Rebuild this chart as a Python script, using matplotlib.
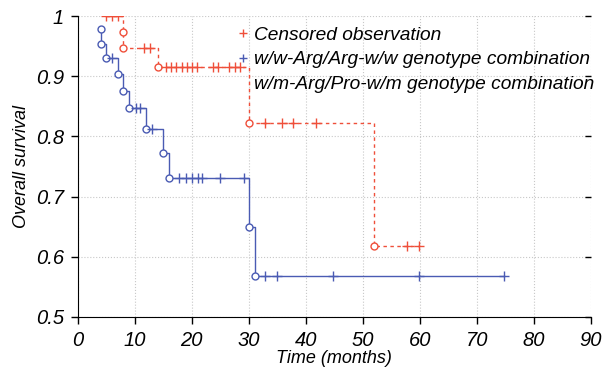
import matplotlib
matplotlib.use('Agg')
import matplotlib.pyplot as plt
from matplotlib.lines import Line2D

# w/w-Arg/Arg-w/w group (blue): time in months, survival, 1=event 0=censored
ww_time = [4, 4, 5, 6, 7, 8, 9, 10.2, 10.9, 12, 13, 15, 16, 17.8, 19.0, 20.1,
           21.1, 21.8, 24.9, 29.1, 30, 31, 32.8, 34.9, 44.7, 59.8, 74.7]
ww_surv = [0.978, 0.953, 0.930, 0.930, 0.903, 0.876, 0.848, 0.848, 0.848,
           0.813, 0.813, 0.773, 0.731, 0.731, 0.731, 0.731, 0.731, 0.731,
           0.731, 0.731, 0.650, 0.568, 0.568, 0.568, 0.568, 0.568, 0.568]
ww_event = [1, 1, 1, 0, 1, 1, 1, 0, 0, 1, 0, 1, 1, 0, 0, 0, 0, 0, 0, 0, 1, 1,
            0, 0, 0, 0, 0]

# w/m-Arg/Pro-w/m group (red)
wm_time = [5, 6, 7, 8, 8, 11.7, 12.6, 14, 15.5, 16.4, 17.3, 18.2, 19.1, 20.0,
           20.9, 23.7, 24.6, 26.6, 27.6, 28.5, 30, 32.8, 35.9, 37.8, 41.8, 52,
           57.8, 59.8]
wm_surv = [1, 1, 1, 0.974, 0.947, 0.947, 0.947, 0.915, 0.915, 0.915, 0.915,
           0.915, 0.915, 0.915, 0.915, 0.915, 0.915, 0.915, 0.915, 0.915,
           0.823, 0.823, 0.823, 0.823, 0.823, 0.617, 0.617, 0.617]
wm_event = [0, 0, 0, 1, 1, 0, 0, 1, 0, 0, 0, 0, 0, 0, 0, 0, 0, 0, 0, 0, 1, 0,
            0, 0, 0, 1, 0, 0]

legend_labels = ['Censored observation',
                 'w/w-Arg/Arg-w/w genotype combination',
                 'w/m-Arg/Pro-w/m genotype combination']

xticks = [0, 10, 20, 30, 40, 50, 60, 70, 80, 90]
yticks = [0.5, 0.6, 0.7, 0.8, 0.9, 1.0]
ytick_labels = ['0.5', '0.6', '0.7', '0.8', '0.9', '1']

RED = '#ef4f3a'
BLUE = '#4a5bb3'

plt.rcParams['font.family'] = ['Liberation Sans', 'DejaVu Sans']
plt.rcParams['font.style'] = 'italic'


def draw_group(ax, t, s, ev, color, ls):
    ax.step(t, s, where='post', color=color, lw=1.0, ls=ls, zorder=3)
    et = [a for a, e in zip(t, ev) if e]
    es = [b for b, e in zip(s, ev) if e]
    ct = [a for a, e in zip(t, ev) if not e]
    cs = [b for b, e in zip(s, ev) if not e]
    ax.plot(et, es, 'o', mfc='white', mec=color, mew=1.0, ms=5, zorder=4)
    ax.plot(ct, cs, '+', color=color, mew=1.0, ms=6.5, zorder=4)


fig = plt.figure(figsize=(6.03, 3.75), dpi=100)
ax = fig.add_axes([0.129, 0.155, 0.851, 0.802])

draw_group(ax, wm_time, wm_surv, wm_event, RED, (0, (2.5, 2.5)))
draw_group(ax, ww_time, ww_surv, ww_event, BLUE, '-')

ax.set_xlim(0, 90)
ax.set_ylim(0.5, 1.0)
ax.set_xticks(xticks)
ax.set_yticks(yticks)
ax.set_yticklabels(ytick_labels)
ax.grid(True, color='#c8c8c8', ls=':', lw=0.8)
ax.spines['top'].set_visible(False)
ax.spines['right'].set_visible(False)
ax.tick_params(direction='out', length=5, width=1, labelsize=14.5, pad=5)
ax.tick_params(axis='y', which='major', right=True)
for tl in ax.yaxis.get_ticklines()[1::2]:
    tl.set_marker(0)
    tl.set_markersize(4)
ax.set_xlabel('Time (months)', fontsize=13, labelpad=0)
ax.set_ylabel('Overall survival', fontsize=13, labelpad=4)

handles = [Line2D([], [], ls='none', marker='+', color=RED, ms=6),
           Line2D([], [], ls='none', marker='+', color=BLUE, ms=6),
           Line2D([], [], ls='none', marker='none')]
ax.legend(handles, legend_labels, loc='upper left',
          bbox_to_anchor=(0.29, 1.005), frameon=False, fontsize=13.8,
          handlelength=0.5, handletextpad=0.35, labelspacing=0.38,
          borderaxespad=0.2)

fig.savefig('out.png', dpi=100)
